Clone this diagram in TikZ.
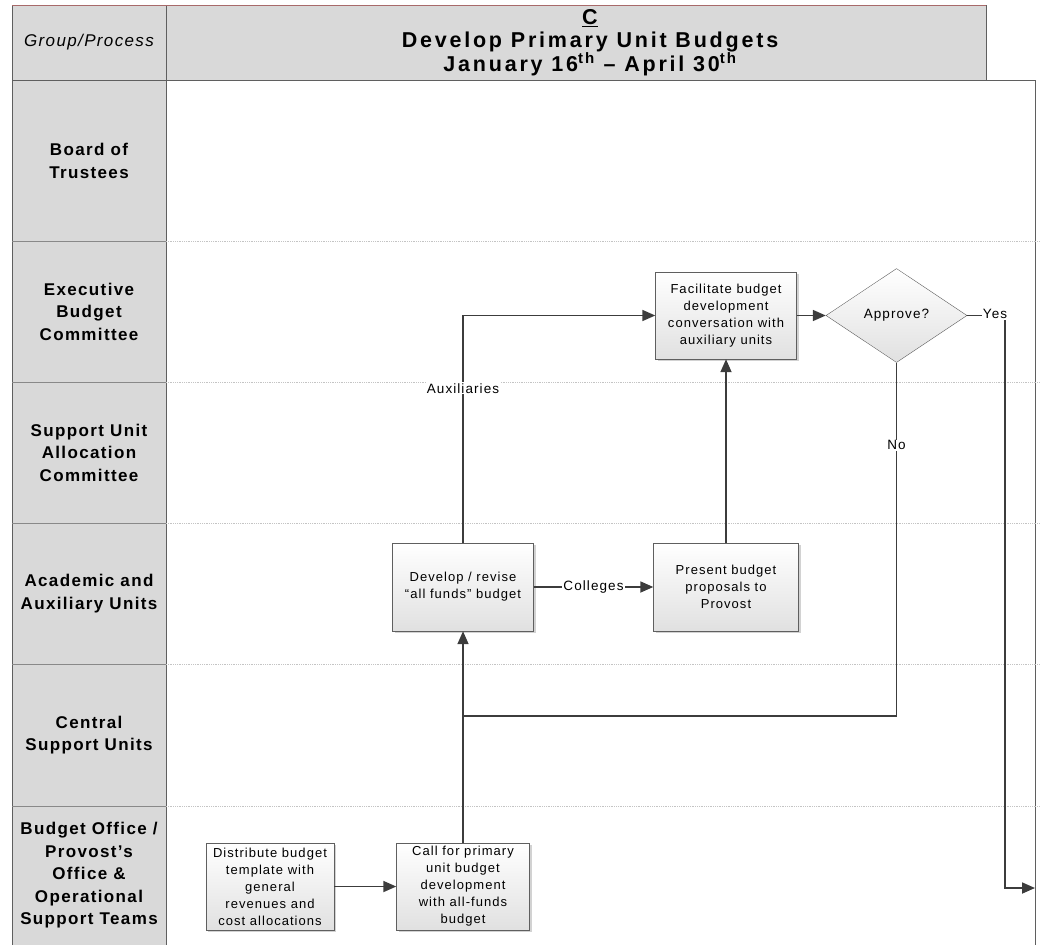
\documentclass[tikz,border=0pt]{standalone}
\usepackage{fontspec}
\setmainfont[LetterSpace=8]{Liberation Sans}
\newfontfamily\titlefont[LetterSpace=13]{Liberation Sans}
\usetikzlibrary{shapes.geometric,arrows.meta,shadows}
\definecolor{lanegray}{HTML}{D9D9D9}
\definecolor{edgegray}{HTML}{3C3C3C}
\definecolor{rulegray}{HTML}{5F5F5F}
\definecolor{sepgray}{HTML}{C4C4C4}
\definecolor{topred}{HTML}{A86A6A}
\tikzset{
  procbox/.style={draw=rulegray, top color=white, bottom color=black!12,
    drop shadow={shadow xshift=2pt, shadow yshift=-2pt, fill=black!25, opacity=.7},
    align=center, inner sep=2pt, font=\fontsize{13}{17}\selectfont},
  decbox/.style={diamond, draw=rulegray, top color=white, bottom color=black!12,
    minimum width=141pt, minimum height=94pt, inner sep=0pt, font=\fontsize{13.5}{17}\selectfont},
  flow/.style={draw=edgegray, line width=1.7pt, -{Triangle[length=13pt,width=11pt]}},
  link/.style={draw=edgegray, line width=1.7pt},
  flowlbl/.style={fill=white, inner sep=1pt, font=\fontsize{13.5}{15}\selectfont},
  lanelbl/.style={align=center, font=\bfseries\fontsize{17}{22.5}\selectfont},
  lanesep/.style={sepgray, densely dotted, line width=.8pt},
}
\begin{document}
\begin{tikzpicture}[x=1pt,y=-1pt]
\useasboundingbox (0,0) rectangle (1040,945);
\fill[lanegray] (12,5) rectangle (986,80);
\fill[lanegray] (12,80) rectangle (166,945);
\draw[rulegray] (986,5) -- (986,80);
\draw[rulegray] (12,5) -- (12,945);
\draw[rulegray] (166,5) -- (166,945);
\draw[rulegray] (12,80) -- (1035,80);
\draw[rulegray] (1035,80) -- (1035,945);
\draw[topred, line width=1pt] (12,5) -- (986,5);
\foreach \y in {241,382,523,664,806} {
  \draw[sepgray!70!black] (12,\y) -- (166,\y);
  \draw[lanesep] (166,\y) -- (1040,\y);
}

\node[font=\itshape\fontsize{17}{20}\selectfont] (grp) at (89,42) {Group/Process};
\node[align=center, font=\titlefont\bfseries\fontsize{21.5}{23.5}\selectfont] (ttl) at (590,42.5)
  {\underline{C}\\Develop Primary Unit Budgets\\January 16\textsuperscript{th} – April 30\textsuperscript{th}};

\node[lanelbl] (bot) at (89,161) {Board of\\Trustees};
\node[lanelbl] (ebc) at (89,311.5) {Executive\\Budget\\Committee};
\node[lanelbl] (suac) at (89,452.5) {Support Unit\\Allocation\\Committee};
\node[lanelbl] (aau) at (89,593.5) {Academic and\\Auxiliary Units};
\node[lanelbl] (csu) at (89,735) {Central\\Support Units};
\node[lanelbl] (bop) at (89,875.5) {Budget Office /\\Provost’s\\Office \&\\Operational\\Support Teams};

\node[procbox, minimum width=128pt, minimum height=87pt] (dist) at (270,886.5) {Distribute budget\\template with\\general\\revenues and\\cost allocations};
\node[procbox, minimum width=133pt, minimum height=87pt] (call) at (463,886.5) {Call for primary\\unit budget\\development\\with all-funds\\budget};
\node[procbox, minimum width=141pt, minimum height=88pt] (dev) at (463,587) {Develop / revise\\“all funds” budget};
\node[procbox, minimum width=145pt, minimum height=88pt] (pres) at (726,587) {Present budget\\proposals to\\Provost};
\node[procbox, minimum width=141pt, minimum height=87pt] (fac) at (726,315.5) {Facilitate budget\\development\\conversation with\\auxiliary units};
\node[decbox] (appr) at (896.5,315.5) {Approve?};

\coordinate (noturn) at (896.5,716);
\coordinate (nojoin) at (463,716);
\coordinate (yesturn) at (1005,315.5);
\coordinate (exitpt) at (1035,888);

\draw[flow] (dist) -- (call);
\draw[flow] (call) -- (dev);
\draw[flow] (dev.north) |- node[flowlbl, pos=0.34] {Auxiliaries} (fac.west);
\draw[flow] (dev) -- node[flowlbl] {Colleges} (pres);
\draw[flow] (pres) -- (fac);
\draw[flow] (fac) -- (appr);
\draw[link] (appr.south) -- node[flowlbl, pos=0.234] {No} (noturn) -- (nojoin);
\draw[flow] (appr.east) -- (yesturn) |- (exitpt);
\node[flowlbl] (yes) at (995,314) {Yes};
\end{tikzpicture}
\end{document}
